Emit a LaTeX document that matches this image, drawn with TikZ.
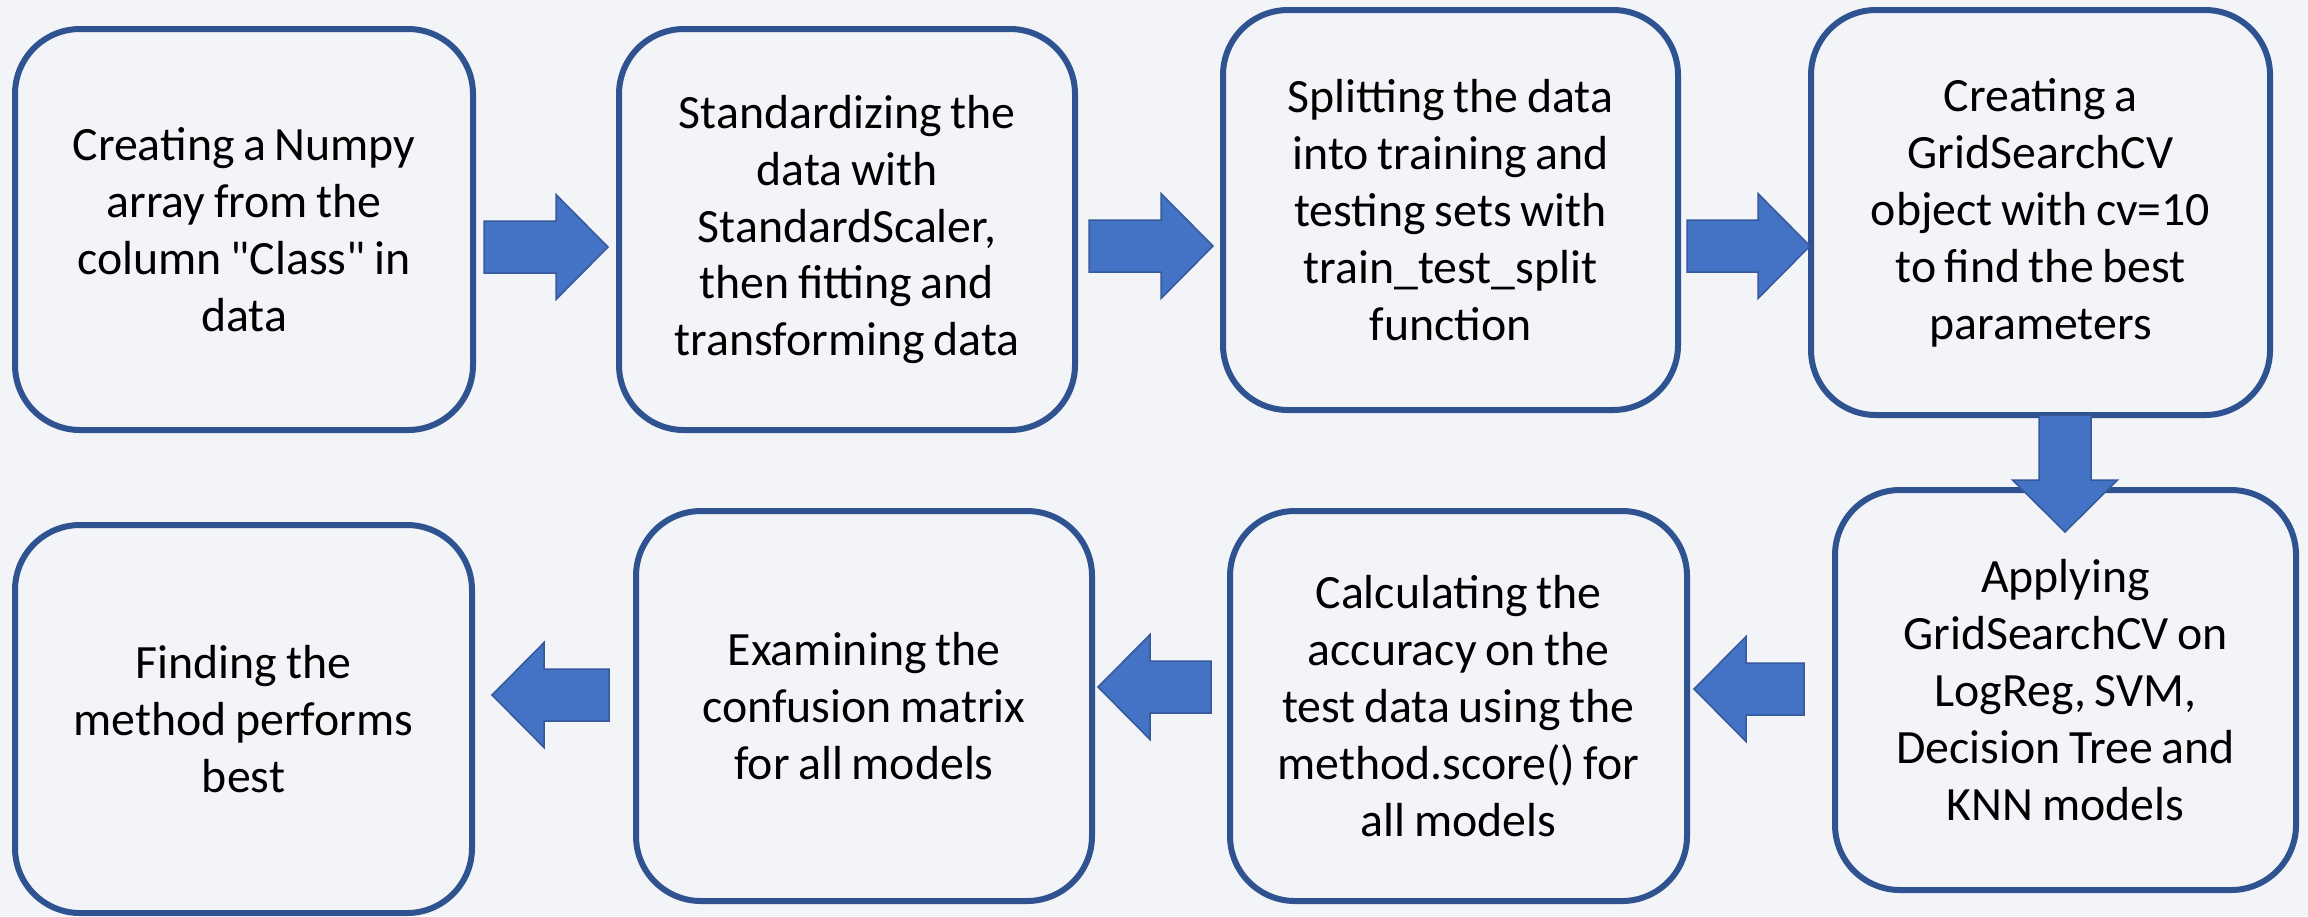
\documentclass[tikz,border=0pt]{standalone}
\usepackage{fontspec}
\setmainfont{Carlito}[WordSpace=0.8, Ligatures=TeXOff]
\definecolor{bgcol}{HTML}{F2F4F8}
\definecolor{boxline}{HTML}{2F5290}
\definecolor{arrowfill}{HTML}{4472C4}
\definecolor{arrowline}{HTML}{35599A}

\tikzset{
  stepbox/.style={draw=boxline, line width=0.6mm, fill=bgcol,
    rounded corners=6.5mm, align=center, inner sep=0pt,
    font=\fontsize{13.6}{16.2}\selectfont},
  % fat block arrow pointing along +x, tail at the origin, total length #1
  pics/blockarrow/.style={code={
    \filldraw[fill=arrowfill, draw=arrowline, line width=0.15mm, line join=miter]
      (0,-26) -- ({#1-52},-26) -- ({#1-52},-52.5) -- (#1,0)
      -- ({#1-52},52.5) -- ({#1-52},26) -- (0,26) -- cycle;
  }}
}

\begin{document}
\begin{tikzpicture}[x=0.1mm, y=-0.1mm]
  \fill[bgcol] (0,0) rectangle (2308,916);
  \useasboundingbox (0,0) rectangle (2308,916);

  % top row, left to right
  \node[stepbox, minimum width=45.8mm, minimum height=40.1mm] (b1) at (244,229.5)
    {Creating a Numpy\\array from the\\column "Class" in\\data};
  \node[stepbox, minimum width=45.6mm, minimum height=40.1mm] (b2) at (847,229.5)
    {Standardizing the\\data with\\StandardScaler,\\then fitting and\\transforming data};
  \node[stepbox, minimum width=45.5mm, minimum height=40.0mm] (b3) at (1450.5,210)
    {Splitting the data\\into training and\\testing sets with\\train\_test\_split\\function};
  \node[stepbox, minimum width=45.9mm, minimum height=40.5mm] (b4) at (2040.5,212.5)
    {Creating a\\GridSearchCV\\object with cv=10\\to find the best\\parameters};

  % bottom row, right to left
  \node[stepbox, minimum width=46.1mm, minimum height=40.0mm] (b5) at (2065.5,690)
    {Applying\\GridSearchCV on\\LogReg, SVM,\\Decision Tree and\\KNN models};
  \node[stepbox, minimum width=45.7mm, minimum height=39.0mm] (b6) at (1458.5,706)
    {Calculating the\\accuracy on the\\test data using the\\method.score() for\\all models};
  \node[stepbox, minimum width=45.6mm, minimum height=39.0mm] (b7) at (864,706)
    {Examining the\\confusion matrix\\for all models};
  \node[stepbox, minimum width=45.7mm, minimum height=38.8mm] (b8) at (243.5,719)
    {Finding the\\method performs\\best};

  % arrow tails
  \coordinate (t12) at (484,247);
  \coordinate (t23) at (1089,246);
  \coordinate (t34) at (1687,246);
  \coordinate (t45) at (2065,415);
  \coordinate (t56) at (1804,689);
  \coordinate (t67) at (1211,687);
  \coordinate (t78) at (609,695);

  \pic at (t12) {blockarrow=124};
  \pic at (t23) {blockarrow=124};
  \pic at (t34) {blockarrow=123};
  \pic[rotate=-90] at (t45) {blockarrow=117};
  \pic[rotate=180] at (t56) {blockarrow=110};
  \pic[rotate=180] at (t67) {blockarrow=113};
  \pic[rotate=180] at (t78) {blockarrow=117};
\end{tikzpicture}
\end{document}
